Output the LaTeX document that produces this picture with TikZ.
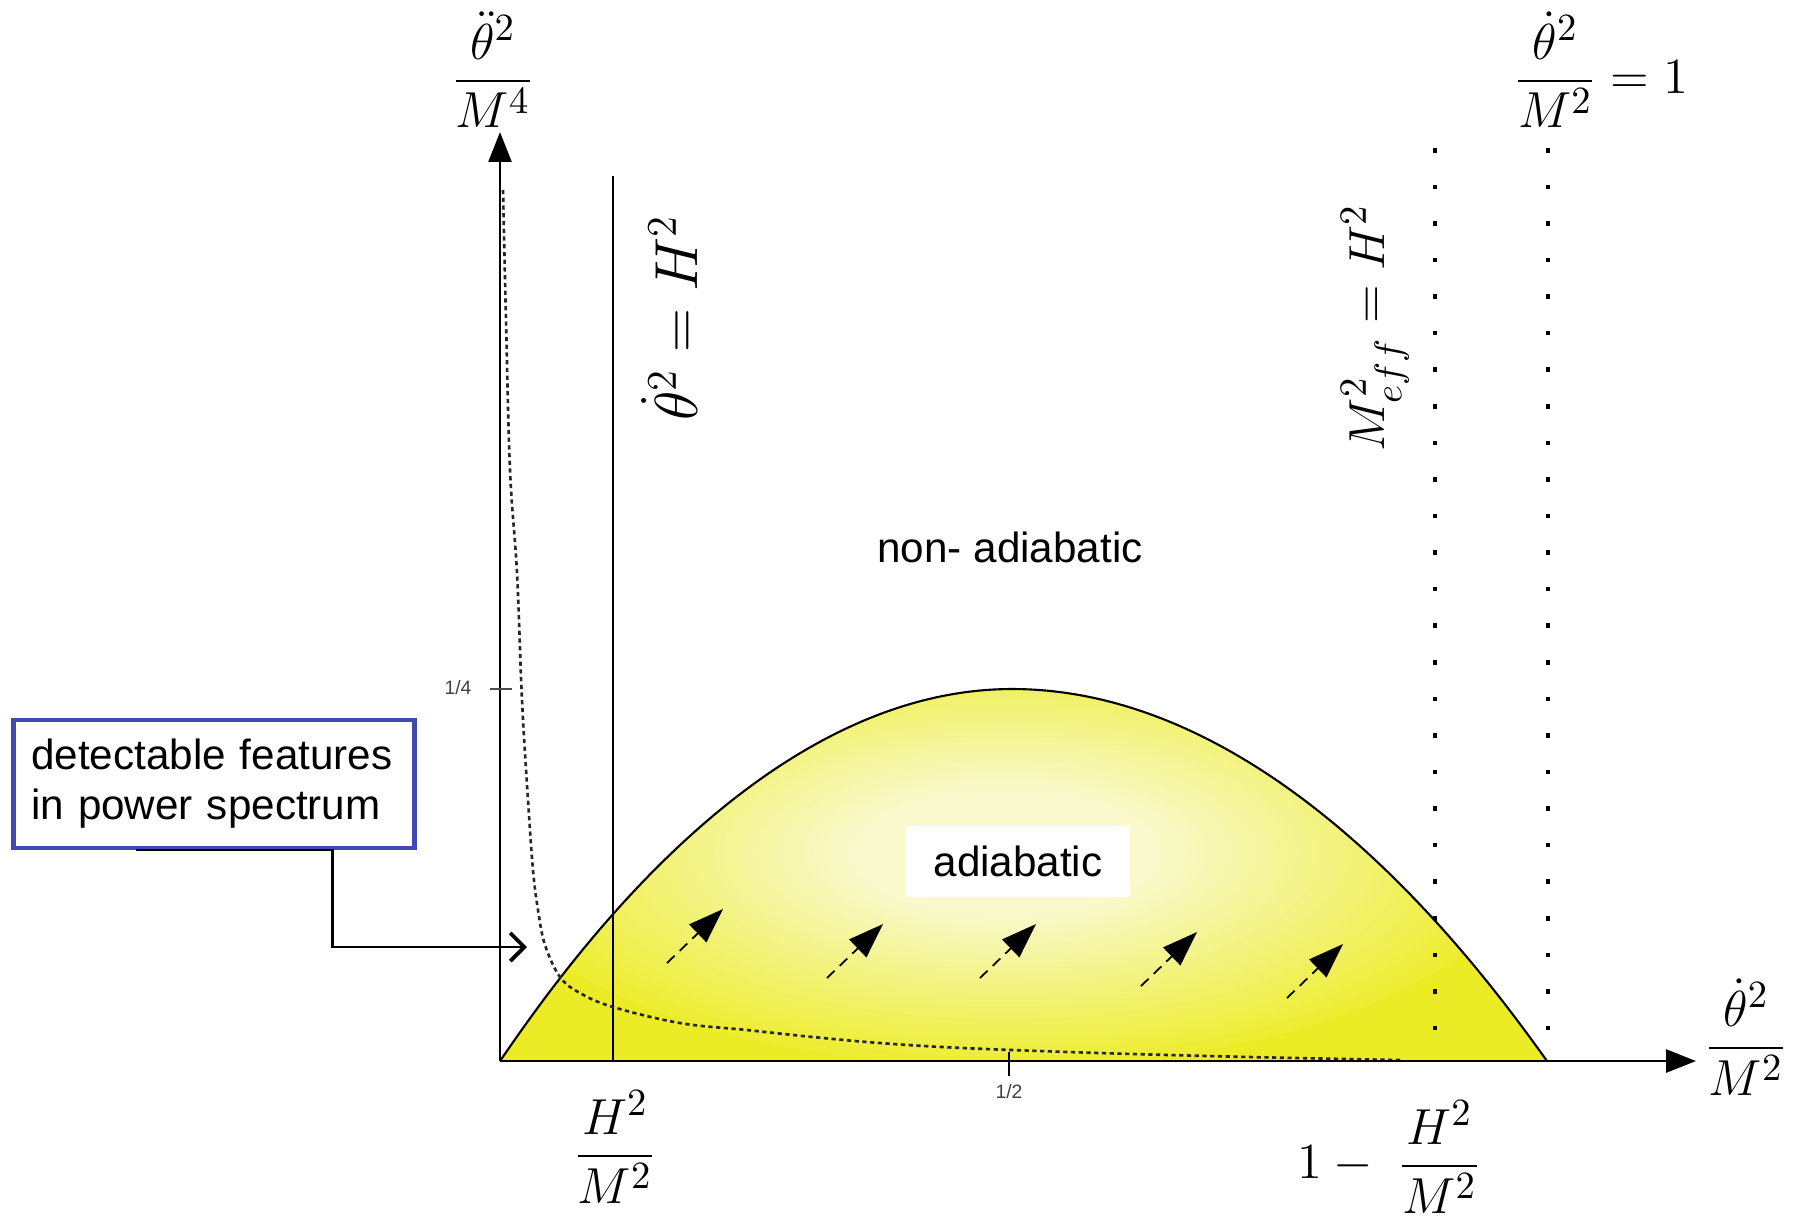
\documentclass[tikz,border=0pt]{standalone}
\usepackage{amsmath, amssymb}
\usepackage{fontspec}
\setsansfont{Liberation Sans}
\usetikzlibrary{arrows.meta}

\definecolor{ylw}{RGB}{236,236,38}
\definecolor{ylwpale}{RGB}{249,249,205}
\definecolor{boxblue}{RGB}{66,72,178}
\pgfdeclareradialshading{glow}{\pgfpoint{0bp}{0bp}}{color(0bp)=(ylwpale); color(7bp)=(ylwpale); color(26bp)=(ylw); color(50bp)=(ylw)}

\begin{document}
\begin{tikzpicture}[x=0.01cm, y=-0.01cm,
    axis/.style={line width=0.8pt, -{Triangle[length=8.5pt,width=6.5pt]}},
    mathlbl/.style={font=\fontsize{15.5}{18}\selectfont, inner sep=0pt},
    textlbl/.style={font=\sffamily\fontsize{12}{14.2}\selectfont},
    flow/.style={line width=0.5pt, densely dashed, -{Triangle[length=10pt,width=7pt]}},
    dotline/.style={line width=1.3pt, dash pattern=on 1.3pt off 9.1pt},
    tinylbl/.style={font=\sffamily\fontsize{5.5}{6}\selectfont, text=black!75, inner sep=0pt}]
    \useasboundingbox (0,0) rectangle (1798,1223);
    \coordinate (O) at (500,1061);
    \coordinate (peak) at (1012,689);
    \coordinate (R) at (1547,1061);
    % adiabatic region
    \begin{scope}
        \clip (O) parabola bend (peak) (R) -- cycle;
        \fill[ylw] (O) rectangle (R |- peak);
        \shade[shading=glow] (1005,852) ellipse (520 and 215);
    \end{scope}
    \draw[line width=0.6pt] (O) parabola bend (peak) (R);
    % bounds
    \draw[line width=0.6pt] (613,176) -- (613,1061);
    \foreach \xd in {1435,1548}
        \draw[dotline] (\xd,148) -- (\xd,1061);
    % power spectrum curve
    \draw[line width=0.75pt, dash pattern=on 1.2pt off 1pt, black!85] plot[smooth, tension=0.6] coordinates {(503,190) (506,320) (510,470) (517,573) (522,700) (528,800) (533,870) (538,910) (545,945) (560,977) (580,993) (613,1007) (680,1023) (747,1030) (813,1037) (880,1043) (963,1048) (1100,1053) (1250,1057) (1400,1060)};
    % flow
    \foreach \xa/\ya in {667/963, 827/978, 980/978, 1141/986, 1287/998}
        \draw[flow] (\xa,\ya) -- ++(56,-54);
    % axes
    \draw[axis] (O) -- (1696,1061);
    \draw[axis] (O) -- (500,132);
    \draw[line width=0.6pt, black!70] (490,689) -- (512,689);
    \node[tinylbl] (quarter) at (458,688) {1/4};
    \draw[line width=0.6pt] (1009,1052) -- (1009,1076);
    \node[tinylbl] (half) at (1009,1092) {1/2};
    % labels
    \node[mathlbl] (ylab) at (493,70) {$\dfrac{\ddot{\theta}^2}{M^4}$};
    \node[mathlbl] (unit) at (1601,70) {$\dfrac{\dot{\theta}^2}{M^2} = 1$};
    \node[mathlbl] (xlab) at (1746,1037) {$\dfrac{\dot{\theta}^2}{M^2}$};
    \node[mathlbl] (hlab) at (615,1147) {$\dfrac{H^2}{M^2}$};
    \node[mathlbl] (hrlab) at (1389,1157) {$1 -\; \dfrac{H^2}{M^2}$};
    \node[mathlbl, font=\fontsize{18}{21}\selectfont, rotate=90] (hline) at (670,318) {$\dot{\theta}^2 = H^2$};
    \node[mathlbl, rotate=90] (meff) at (1375,328) {$M^2_{eff} = H^2$};
    \node[textlbl] (nonad) at (1010,547) {non- adiabatic};
    \node[textlbl, fill=white, minimum width=63.7pt, minimum height=20.2pt] (adiab) at (1018,861) {adiabatic};
    \node[textlbl, draw=boxblue, line width=1.2pt, text width=104pt, inner xsep=5pt, align=left, minimum height=36.4pt] (feat) at (214,784) {detectable features\\ in power spectrum};
    % pointer
    \coordinate (tip) at (527,947);
    \draw[line width=0.6pt, -{Straight Barb[length=4pt,width=8pt,line width=1.1pt]}] ([xshift=35.5pt]feat.south west) -- ([xshift=91.3pt]feat.south west) |- (tip);
\end{tikzpicture}
\end{document}
